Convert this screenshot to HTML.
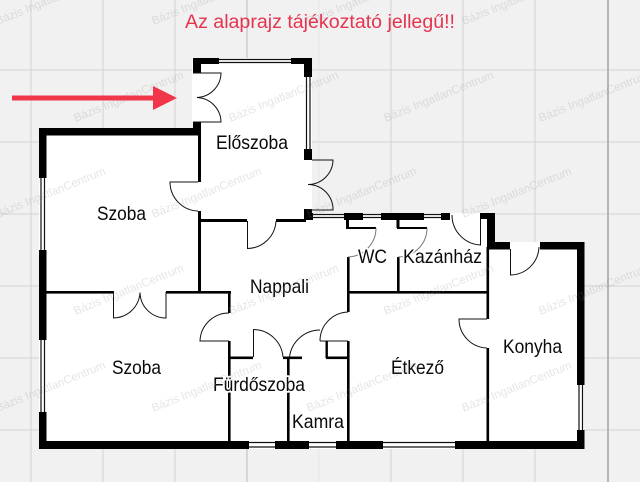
<!DOCTYPE html>
<html lang="hu">
<head>
<meta charset="utf-8">
<title>Alaprajz</title>
<style>
html,body{margin:0;padding:0;width:640px;height:482px;overflow:hidden;background:#f1f1f1}
#w{position:relative;width:640px;height:482px;overflow:hidden}
svg{display:block;width:640px;height:482px;overflow:hidden;font-family:"Liberation Sans",Arial,sans-serif}
.wm{font-size:11.6px;fill:#888;fill-opacity:.22}
.lb{font-size:19.5px;fill:#0a0a0a;stroke:#fff;stroke-width:3.5px;paint-order:stroke;stroke-linejoin:round}
</style>
</head>
<body>
<div id="w">
<svg xmlns="http://www.w3.org/2000/svg" width="640" height="482" viewBox="0 0 640 482">
<rect width="640" height="482" fill="#f1f1f1"/>
<!-- grid -->
<g stroke="#d4d4d4" stroke-width="1">
<path d="M31 0V482M103 0V482M175 0V482M391 0V482M463 0V482M535 0V482"/>
<path d="M0 70H640M0 142H640M0 214H640M0 286H640M0 358H640M0 430H640"/>
</g>
<path d="M319 0V482" stroke="#e6e6e6"/>
<path d="M247 0V482" stroke="#bcbcbc"/>
<path d="M608 0V482" stroke="#a8a8a8" stroke-width="1.6"/>
<!-- white floor -->
<path d="M192 58H312V213H495V242H584V449H39V128H193V122H192Z" fill="#fff"/>
<rect x="480" y="213" width="15" height="34" fill="#fff"/>
<!-- solid walls -->
<g fill="#000">
<rect x="193" y="58" width="26" height="6"/>
<rect x="193" y="58" width="8" height="15"/>
<rect x="291" y="58" width="21" height="6"/>
<rect x="304" y="58" width="8" height="19"/>
<rect x="304" y="149" width="8" height="11"/>
<rect x="304" y="209" width="8" height="6"/>
<rect x="304" y="213" width="9" height="7"/>
<rect x="193" y="122" width="8" height="13"/>
<rect x="39" y="128" width="162" height="7.5"/>
<rect x="39" y="128" width="7.5" height="50"/>
<rect x="39" y="250" width="7.5" height="90"/>
<rect x="39" y="412" width="7.5" height="37"/>
<rect x="39" y="441" width="210" height="8"/>
<rect x="275" y="441" width="34" height="8"/>
<rect x="336" y="441" width="47" height="8"/>
<rect x="455" y="441" width="129" height="8"/>
<rect x="577" y="430" width="7.5" height="19"/>
<rect x="577" y="242" width="7.5" height="143"/>
<rect x="540" y="242" width="44" height="7.5"/>
<rect x="487" y="242" width="23" height="7.5"/>
<rect x="487" y="213" width="8" height="36"/>
<rect x="480" y="213" width="15" height="6"/>
<rect x="344" y="213" width="19" height="7"/>
<rect x="381" y="213" width="43" height="7"/>
<rect x="441" y="213" width="9" height="7"/>
<!-- inner walls -->
<rect x="198" y="128" width="3" height="54"/>
<rect x="198" y="211" width="3" height="82"/>
<rect x="199" y="219" width="48" height="3"/>
<rect x="276" y="219" width="30" height="3"/>
<rect x="46" y="291" width="68" height="2.6"/>
<rect x="166" y="291" width="65" height="2.6"/>
<rect x="228" y="291" width="2.6" height="22"/>
<rect x="228" y="341" width="2.6" height="100"/>
<rect x="229" y="356.500" width="24" height="2.6"/>
<rect x="283" y="356.500" width="19" height="2.6"/>
<rect x="287" y="358" width="2.6" height="83"/>
<rect x="326" y="356.500" width="22" height="2.6"/>
<rect x="325.500" y="341" width="2.4" height="17"/>
<rect x="347" y="341" width="2.6" height="100"/>
<rect x="347" y="257" width="2.6" height="55"/>
<rect x="348" y="291" width="140" height="2.6"/>
<rect x="397" y="257" width="2.6" height="35"/>
<rect x="486.500" y="247" width="2.6" height="72"/>
<rect x="486.500" y="348" width="2.6" height="93"/>
<rect x="346" y="220" width="3" height="8"/>
<rect x="346" y="227" width="30" height="2"/>
<rect x="396.500" y="220" width="3" height="8"/>
<rect x="397" y="227" width="30" height="2"/>
</g>
<!-- windows -->
<g fill="none" stroke="#111" stroke-width="1.2">
<path d="M219 59.500H291M219 62.500H291"/>
<path d="M306.500 77V149M310 77V149"/>
<path d="M312 214.500H344M312 217.500H344M363 214.500H381M363 217.500H381M424 214.500H441M424 217.500H441"/>
<path d="M41 178V250M44.500 178V250M41 340V412M44.500 340V412"/>
<path d="M249 442.500H275M249 447H275M309 442.500H336M309 447H336M383 442.500H455M383 447H455"/>
<path d="M579 385V430M582.500 385V430"/>
</g>
<!-- doors -->
<g fill="none" stroke="#111" stroke-width="1">
<path d="M193 73H221A25 25 0 0 1 197 97.500A25 25 0 0 1 221 122H193"/>
<path d="M312 160H333A25 25 0 0 1 308 184.500A25 25 0 0 1 333 210H312"/>
<path d="M198 182H170A29 29 0 0 0 198 211"/>
<path d="M247.500 221V248.500A29 29 0 0 0 276 221"/>
<path d="M113.500 292V318A27 27 0 0 0 140 292.500A26 26 0 0 0 166 318V292"/>
<path d="M229 313A29 29 0 0 0 200 341H229"/>
<path d="M253.500 357V329.500A30 30 0 0 1 283 357"/>
<path d="M289.500 357A31 31 0 0 1 320 330"/>
<path d="M320 341H348M320 341A29 29 0 0 1 348 312"/>
<path d="M376 228A29 29 0 0 1 348 257" stroke="#777"/>
<path d="M427 228A29 29 0 0 1 398 257" stroke="#777"/>
<path d="M452 215A30 30 0 0 0 480.500 245V219"/>
<path d="M487 319H459A29 29 0 0 0 487 348"/>
<path d="M510.500 249V275A29 29 0 0 0 539 247"/>
</g>
<!-- labels -->
<g class="lb">
<text x="216" y="149" textLength="72" lengthAdjust="spacingAndGlyphs">Előszoba</text>
<text x="97" y="220" textLength="49" lengthAdjust="spacingAndGlyphs">Szoba</text>
<text x="250" y="293" textLength="59" lengthAdjust="spacingAndGlyphs">Nappali</text>
<text x="112" y="374" textLength="49" lengthAdjust="spacingAndGlyphs">Szoba</text>
<text x="213" y="391" textLength="92" lengthAdjust="spacingAndGlyphs">Fürdőszoba</text>
<text x="292" y="428" textLength="52" lengthAdjust="spacingAndGlyphs">Kamra</text>
<text x="358" y="263" textLength="29" lengthAdjust="spacingAndGlyphs">WC</text>
<text x="403" y="263" textLength="79" lengthAdjust="spacingAndGlyphs">Kazánház</text>
<text x="391" y="374" textLength="53" lengthAdjust="spacingAndGlyphs">Étkező</text>
<text x="503" y="353" textLength="59" lengthAdjust="spacingAndGlyphs">Konyha</text>
</g>
<!-- watermarks -->
<g class="wm" text-anchor="middle">
<text transform="translate(52 3) rotate(-22)">Bázis IngatlanCentrum</text>
<text transform="translate(208 3) rotate(-22)">Bázis IngatlanCentrum</text>
<text transform="translate(363 3) rotate(-22)">Bázis IngatlanCentrum</text>
<text transform="translate(518 3) rotate(-22)">Bázis IngatlanCentrum</text>
<text transform="translate(130 100) rotate(-22)">Bázis IngatlanCentrum</text>
<text transform="translate(285 100) rotate(-22)">Bázis IngatlanCentrum</text>
<text transform="translate(440 100) rotate(-22)">Bázis IngatlanCentrum</text>
<text transform="translate(595 100) rotate(-22)">Bázis IngatlanCentrum</text>
<text transform="translate(52 196) rotate(-22)">Bázis IngatlanCentrum</text>
<text transform="translate(208 196) rotate(-22)">Bázis IngatlanCentrum</text>
<text transform="translate(363 196) rotate(-22)">Bázis IngatlanCentrum</text>
<text transform="translate(518 196) rotate(-22)">Bázis IngatlanCentrum</text>
<text transform="translate(130 293) rotate(-22)">Bázis IngatlanCentrum</text>
<text transform="translate(285 293) rotate(-22)">Bázis IngatlanCentrum</text>
<text transform="translate(440 293) rotate(-22)">Bázis IngatlanCentrum</text>
<text transform="translate(595 293) rotate(-22)">Bázis IngatlanCentrum</text>
<text transform="translate(52 390) rotate(-22)">Bázis IngatlanCentrum</text>
<text transform="translate(208 390) rotate(-22)">Bázis IngatlanCentrum</text>
<text transform="translate(363 390) rotate(-22)">Bázis IngatlanCentrum</text>
<text transform="translate(518 390) rotate(-22)">Bázis IngatlanCentrum</text>
</g>
<text x="185" y="28" font-size="19" fill="#e6344f" textLength="270" lengthAdjust="spacingAndGlyphs">Az alaprajz tájékoztató jellegű!!</text>
<!-- arrow -->
<rect x="12" y="95.500" width="143" height="5" fill="#f2364a"/>
<path d="M153 86L177 98L153 110Z" fill="#f2364a"/>
</svg>
</div>
</body>
</html>
